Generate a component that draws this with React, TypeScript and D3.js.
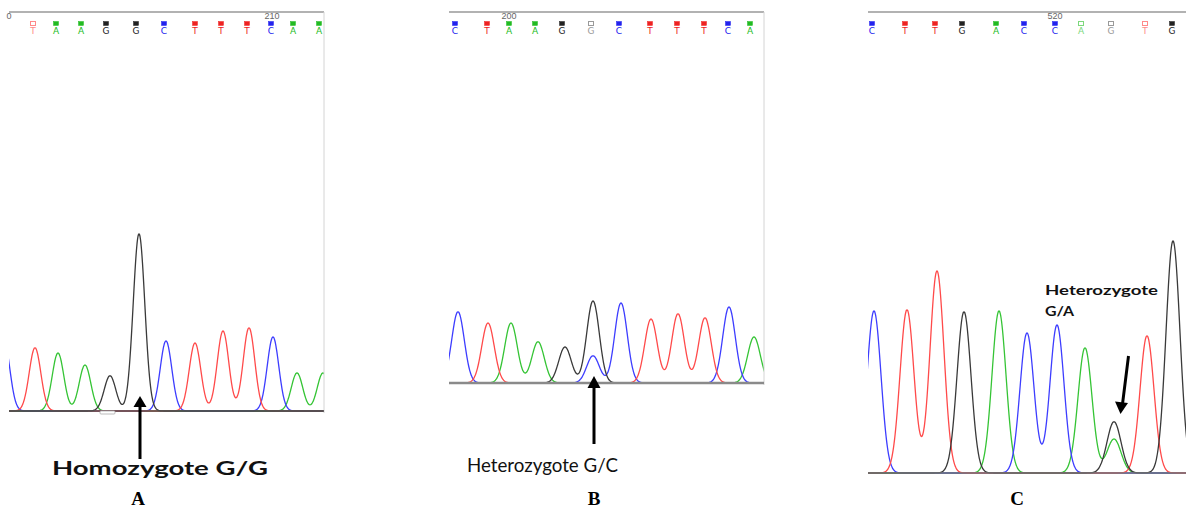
import React from "react";
import * as d3 from "d3";

// ---------- DATA ----------
// Panel A (scan units)
const basesA = ["T", "A", "A", "G", "G", "C", "T", "T", "T", "C", "A", "A"];
const basePosA = [24, 47, 72, 97, 127, 155, 186, 212, 238, 262, 284, 310];
const baseLowA = [true, false, false, false, false, false, false, false, false, false, false, false];
const peakBaseA = ["C", "T", "A", "A", "G", "G", "C", "T", "T", "T", "C", "A", "A"];
const peakPosA = [-5, 26, 49, 76, 101, 130, 157, 186, 214, 240, 264, 288, 314];
const peakHeightA = [175, 158, 145, 115, 88, 443, 175, 170, 200, 208, 185, 95, 95];
const rulerA = { label: "210", pos: 263 };
const rulerA0 = { label: "0", pos: 0 };

// Panel B
const basesB = ["C", "T", "A", "A", "G", "G", "C", "T", "T", "T", "C", "A"];
const basePosB = [6, 38, 60, 86, 113, 142, 170, 201, 228, 255, 279, 301];
const baseLowB = [false, false, false, false, false, true, false, false, false, false, false, false];
const peakBaseB = ["C", "T", "A", "A", "G", "G", "C", "C", "T", "T", "T", "C", "A"];
const peakPosB = [9, 39, 62, 89, 116, 144, 144, 172, 202, 229, 256, 280, 305];
const peakHeightB = [178, 150, 150, 103, 90, 205, 68, 200, 160, 173, 163, 190, 115];
const rulerB = { label: "200", pos: 60 };

// Panel C
const basesC = ["C", "T", "T", "G", "A", "C", "C", "A", "G", "T", "G"];
const basePosC = [4, 37, 67, 94, 128, 156, 187, 213, 243, 277, 304];
const baseLowC = [false, false, false, false, false, false, false, true, true, true, false];
const peakBaseC = ["C", "T", "T", "G", "A", "C", "C", "A", "G", "A", "T", "G"];
const peakPosC = [6, 39, 69, 96, 131, 159, 189, 217, 246, 246, 279, 305];
const peakHeightC = [405, 408, 505, 403, 405, 350, 370, 313, 128, 85, 343, 580];
const rulerC = { label: "520", pos: 187 };

const annotations = ["Homozygote G/G", "Heterozygote G/C", "Heterozygote", "G/A"];
const panelLetters = ["A", "B", "C"];

// ---------- STYLE / LAYOUT ----------
const traceColor: Record<string, string> = {
  A: "#35c435",
  C: "#3d3dff",
  G: "#3a3a3a",
  T: "#ff4a4a",
};
const callColor: Record<string, string> = {
  A: "#22bb22",
  C: "#2222ee",
  G: "#222222",
  T: "#ee2222",
};
const callLight: Record<string, string> = {
  A: "#7cd87c",
  C: "#8888ff",
  G: "#9a9a9a",
  T: "#ff8a8a",
};

type Panel = {
  id: string;
  left: number;
  right: number;
  top: number;
  baseline: number;
  domain: [number, number];
  sigma: number;
  bases: string[];
  basePos: number[];
  baseLow: boolean[];
  peakBase: string[];
  peakPos: number[];
  peakHeight: number[];
  ruler: { label: string; pos: number };
  rightBorder: boolean;
  baseStroke: string;
  baseWidth: number;
};

const panels: Panel[] = [
  {
    id: "A", left: 9, right: 324, top: 12, baseline: 411, domain: [0, 315], sigma: 5.8,
    bases: basesA, basePos: basePosA, baseLow: baseLowA,
    peakBase: peakBaseA, peakPos: peakPosA, peakHeight: peakHeightA, ruler: rulerA,
    rightBorder: true, baseStroke: "#555", baseWidth: 1.5,
  },
  {
    id: "B", left: 449, right: 764, top: 12, baseline: 383, domain: [0, 315], sigma: 6.3,
    bases: basesB, basePos: basePosB, baseLow: baseLowB,
    peakBase: peakBaseB, peakPos: peakPosB, peakHeight: peakHeightB, ruler: rulerB,
    rightBorder: true, baseStroke: "#8a8a8a", baseWidth: 2.5,
  },
  {
    id: "C", left: 868, right: 1186, top: 12, baseline: 473, domain: [0, 318], sigma: 7.0,
    bases: basesC, basePos: basePosC, baseLow: baseLowC,
    peakBase: peakBaseC, peakPos: peakPosC, peakHeight: peakHeightC, ruler: rulerC,
    rightBorder: false, baseStroke: "#777", baseWidth: 1.5,
  },
];

function PanelView({ p }: { p: Panel }) {
  const x = d3.scaleLinear().domain(p.domain).range([p.left, p.right]);
  const y = d3.scaleLinear().domain([0, 1000]).range([p.baseline, p.baseline - 400]);
  const samples = d3.range(p.domain[0] - 20, p.domain[1] + 20, 0.5);
  const order = ["A", "C", "T", "G"];
  const line = d3
    .line<[number, number]>()
    .x((d) => x(d[0]))
    .y((d) => y(d[1]))
    .curve(d3.curveMonotoneX);
  const paths = order.map((b) => {
    const idx = p.peakBase.map((pb, i) => (pb === b ? i : -1)).filter((i) => i >= 0);
    const pts: [number, number][] = samples.map((s) => {
      let v = 0;
      idx.forEach((i) => {
        const dx = s - p.peakPos[i];
        v += p.peakHeight[i] * Math.exp(-(dx * dx) / (2 * p.sigma * p.sigma));
      });
      return [s, v];
    });
    return { b, d: line(pts) || "", has: idx.length > 0 };
  });
  const clipId = "clip" + p.id;
  return (
    <g>
      <defs>
        <clipPath id={clipId}>
          <rect x={p.left} y={0} width={p.right - p.left} height={p.baseline + 4} />
        </clipPath>
      </defs>
      <g clipPath={`url(#${clipId})`}>
        {paths.filter((q) => q.has).map((q) => (
          <path key={q.b} d={q.d} fill="none" stroke={traceColor[q.b]} strokeWidth={1.3} />
        ))}
      </g>
      {/* ruler */}
      <line x1={p.left} x2={p.right} y1={12} y2={12} stroke="#999" strokeWidth={1.6} />
      <text x={x(p.ruler.pos)} y={19} fontSize={9} fill="#666" textAnchor="middle"
        fontFamily="Liberation Sans, Arial, sans-serif">{p.ruler.label}</text>
      {p.id === "A" && (
        <text x={x(rulerA0.pos)} y={19} fontSize={9} fill="#666" textAnchor="middle"
          fontFamily="Liberation Sans, Arial, sans-serif">{rulerA0.label}</text>
      )}
      {p.rightBorder && (
        <line x1={p.right} x2={p.right} y1={12} y2={p.baseline + 2} stroke="#d4d4d4" strokeWidth={1} />
      )}
      {/* base calls */}
      {p.bases.map((b, i) => {
        const cx = x(p.basePos[i]);
        const low = p.baseLow[i];
        return (
          <g key={i}>
            <rect x={cx - 2.5} y={21.5} width={5} height={4}
              fill={low ? "#fff" : callColor[b]} stroke={low ? callLight[b] : callColor[b]} strokeWidth={low ? 1 : 0.5} />
            <text x={cx} y={33.5} fontSize={9} textAnchor="middle" fill={low ? callLight[b] : callColor[b]}
              fontFamily="DejaVu Sans, sans-serif">{b}</text>
          </g>
        );
      })}
      {/* baseline */}
      <line x1={p.left} x2={p.right} y1={p.baseline} y2={p.baseline} stroke={p.baseStroke} strokeWidth={p.baseWidth} />
    </g>
  );
}

export default function App() {
  return (
    <svg width={1186} height={510} style={{ position: "absolute", left: 0, top: 0, background: "#fff" }}>
      <rect x={0} y={0} width={1186} height={510} fill="#fff" />
      {panels.map((p) => (
        <PanelView key={p.id} p={p} />
      ))}
      <rect x={100} y={411} width={15} height={3} rx={1} fill="#fff" stroke="#aaa" strokeWidth={0.8} />

      {/* Panel A arrow + label */}
      <line x1={140} x2={140} y1={459} y2={404} stroke="#000" strokeWidth={3} />
      <polygon points="140,396 133.5,407 146.5,407" fill="#000" />
      <text x={52} y={475} fontSize={18} fontWeight="bold" textLength={216} lengthAdjust="spacingAndGlyphs"
        fontFamily="Lato, Open Sans, sans-serif" fill="#111">{annotations[0]}</text>

      {/* Panel B arrow + label */}
      <line x1={594} x2={594} y1={444} y2={386} stroke="#000" strokeWidth={3} />
      <polygon points="594,376 587.5,388 600.5,388" fill="#000" />
      <text x={467} y={472} fontSize={19} textLength={151} lengthAdjust="spacingAndGlyphs"
        fontFamily="Lato, Open Sans, sans-serif" fill="#111">{annotations[1]}</text>

      {/* Panel C arrow + label */}
      <line x1={1128.5} x2={1122.5} y1={356} y2={404} stroke="#000" strokeWidth={3} />
      <polygon points="1120.5,414 1115,401.5 1128,403" fill="#000" />
      <text x={1045} y={295} fontSize={13.5} fontWeight="bold" textLength={113} lengthAdjust="spacingAndGlyphs"
        fontFamily="Lato, Open Sans, sans-serif" fill="#111">{annotations[2]}</text>
      <text x={1045} y={316} fontSize={13.5} fontWeight="bold" textLength={29} lengthAdjust="spacingAndGlyphs"
        fontFamily="Lato, Open Sans, sans-serif" fill="#111">{annotations[3]}</text>

      {/* panel letters */}
      {[138, 594, 1017].map((cx, i) => (
        <text key={i} x={cx} y={505} fontSize={19} fontWeight="bold" textAnchor="middle"
          fontFamily="Liberation Serif, Times New Roman, serif" fill="#000">{panelLetters[i]}</text>
      ))}
    </svg>
  );
}
